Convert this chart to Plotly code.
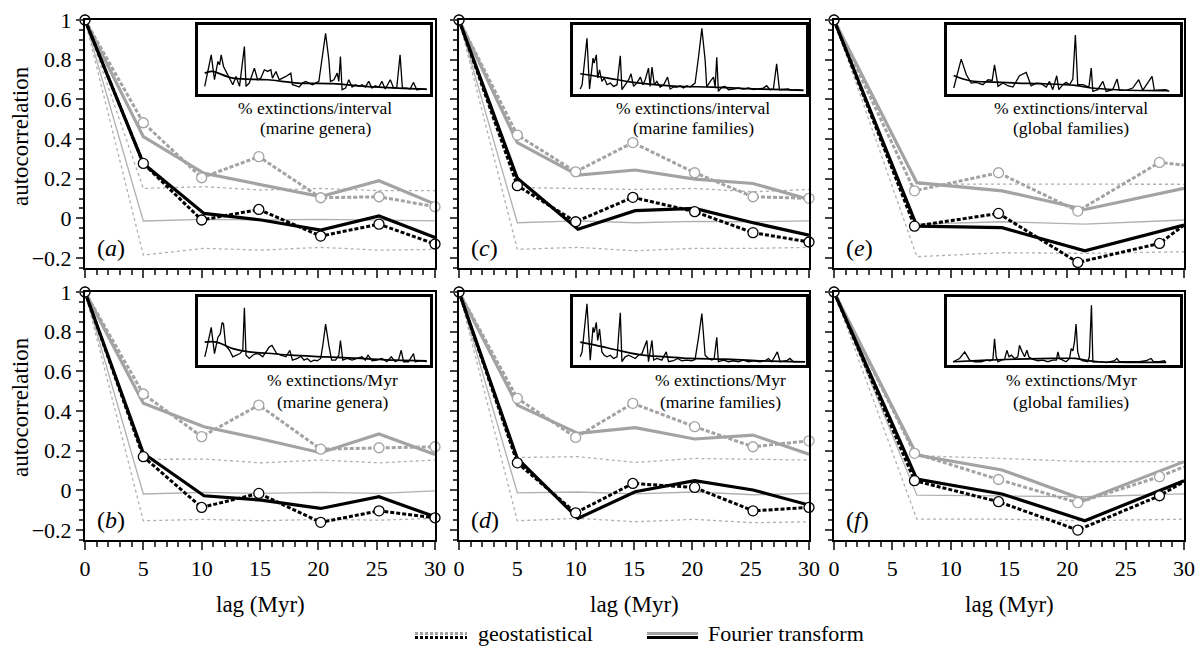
import plotly.graph_objects as go

W, H = 1204, 651
OFF = 8  # page offset of the figure (default body margin)
FONT = "Liberation Serif"
GRAY = "#a3a3a3"
LGRAY = "#b0b0b0"

# ---------------- data: autocorrelation panels ----------------
# lags for panels a-d
geo_lag_ad = [0, 5, 10, 14.9, 20.2, 25.2, 30]
ft_lag_ad = [0, 5, 10.2, 15.1, 20.2, 25.2, 30]
# lags for panels e-f (last value = line reaching the axis edge)
geo_lag_ef = [0, 6.9, 14.1, 20.9, 27.9, 30]
ft_lag_ef = [0, 7.1, 14.4, 21.5, 30]

# (a) % extinctions/interval, marine genera
a_geo_gray = [1, 0.482, 0.205, 0.311, 0.104, 0.109, 0.059]
a_geo_black = [1, 0.277, -0.008, 0.045, -0.089, -0.029, -0.129]
a_ft_gray = [1, 0.412, 0.227, 0.168, 0.110, 0.190, 0.072]
a_ft_black = [1, 0.277, 0.025, -0.008, -0.059, 0.012, -0.096]
a_null = [1, -0.013, -0.005, -0.008, -0.005, -0.010, -0.012]
a_upper = [1, 0.151, 0.160, 0.143, 0.151, 0.140, 0.140]
a_lower = [1, -0.185, -0.151, -0.160, -0.146, -0.160, -0.156]

# (b) % extinctions/Myr, marine genera
b_geo_gray = [1, 0.486, 0.271, 0.430, 0.208, 0.215, 0.220]
b_geo_black = [1, 0.170, -0.086, -0.015, -0.161, -0.103, -0.138]
b_ft_gray = [1, 0.439, 0.321, 0.259, 0.190, 0.284, 0.181]
b_ft_black = [1, 0.187, -0.027, -0.049, -0.091, -0.032, -0.133]
b_null = [1, -0.018, -0.010, -0.015, -0.010, -0.015, -0.002]
b_upper = [1, 0.156, 0.158, 0.139, 0.153, 0.139, 0.153]
b_lower = [1, -0.153, -0.146, -0.153, -0.146, -0.150, -0.141]

# (c) % extinctions/interval, marine families
c_geo_gray = [1, 0.420, 0.235, 0.382, 0.230, 0.109, 0.101]
c_geo_black = [1, 0.165, -0.017, 0.106, 0.034, -0.072, -0.119]
c_ft_gray = [1, 0.382, 0.218, 0.244, 0.198, 0.176, 0.096]
c_ft_black = [1, 0.202, -0.055, 0.039, 0.050, -0.022, -0.084]
c_null = [1, -0.022, -0.012, -0.022, -0.015, -0.017, -0.012]
c_upper = [1, 0.156, 0.151, 0.146, 0.151, 0.134, 0.146]
c_lower = [1, -0.156, -0.146, -0.163, -0.151, -0.151, -0.146]

# (d) % extinctions/Myr, marine families
d_geo_gray = [1, 0.464, 0.267, 0.439, 0.321, 0.220, 0.250]
d_geo_black = [1, 0.139, -0.113, 0.035, 0.015, -0.103, -0.086]
d_ft_gray = [1, 0.430, 0.287, 0.316, 0.259, 0.279, 0.182]
d_ft_black = [1, 0.161, -0.141, -0.007, 0.049, 0.002, -0.074]
d_null = [1, -0.012, -0.008, -0.018, -0.008, -0.022, -0.015]
d_upper = [1, 0.166, 0.170, 0.141, 0.161, 0.156, 0.153]
d_lower = [1, -0.153, -0.141, -0.158, -0.146, -0.163, -0.158]

# (e) % extinctions/interval, global families
e_geo_gray = [1, 0.139, 0.230, 0.037, 0.282, 0.269]
e_geo_black = [1, -0.039, 0.025, -0.222, -0.126, -0.034]
e_ft_gray = [1, 0.180, 0.139, 0.045, 0.151]
e_ft_black = [1, -0.039, -0.047, -0.163, -0.034]
e_null = [1, -0.029, -0.017, -0.029, -0.008]
e_upper = [1, 0.173, 0.173, 0.173, 0.172]
e_lower = [1, -0.193, -0.173, -0.176, -0.168]

# (f) % extinctions/Myr, global families
f_geo_gray = [1, 0.187, 0.055, -0.062, 0.069, 0.119]
f_geo_black = [1, 0.049, -0.057, -0.200, -0.027, 0.044]
f_ft_gray = [1, 0.178, 0.103, -0.049, 0.145]
f_ft_black = [1, 0.057, -0.018, -0.153, 0.049]
f_null = [1, -0.024, -0.028, -0.032, -0.018]
f_upper = [1, 0.175, 0.161, 0.145, 0.145]
f_lower = [1, -0.145, -0.145, -0.153, -0.145]

# ---------------- data: inset time series (relative units) ----------------
ins_a_x = [2.9, 5.7, 7.1, 8.6, 9.3, 10, 11, 12.1, 13.6, 15, 16.4, 17.9, 20, 20.7, 22.1, 24.3, 25.7, 27.1, 28.6, 30,
           31.4, 32.1, 33.6, 35, 36.4, 37.9, 40, 40.7, 42.1, 43.6, 45, 46.4, 47.9, 49.3, 50.7, 52.1, 53.6, 55, 56.4,
           57.1, 58.6, 60, 60.7, 61.4, 62.1, 63.6, 65, 66.4, 67.9, 69.3, 70.7, 72.1, 73.6, 75, 76.4, 77.9, 79.3,
           80.7, 82.9, 84.3, 85.7, 87.1, 88.1, 90, 91.4, 92.9, 94.3, 96.4, 98.6]
ins_a_y = [11.5, 59, 21.5, 49, 44, 59, 41.5, 34, 24, 14, 26.5, 11.5, 71.5, 11.5, 16.5, 39, 21.5, 24, 36.5, 34,
           36.5, 24, 34, 21.5, 24, 26.5, 31.5, 14, 12.5, 10.5, 16.5, 19, 16.5, 14, 16.5, 19, 56.5, 91.5, 51.5,
           19, 21.5, 31.5, 19, 56.5, 6.5, 9, 21.5, 10.5, 14, 11.5, 14, 10.5, 19, 9, 12.5, 10.5, 19,
           7.5, 21.5, 9, 10.5, 59, 9, 9, 7.5, 17.5, 6.5, 7.5, 6.5]
trend_a_x = [2.9, 6, 15, 30, 43, 58, 72, 86, 98.6]
trend_a_y = [31.5, 34, 24, 21.5, 16.5, 15.5, 11.5, 9, 7.5]

ins_b_x = [2.9, 3.6, 5.7, 7.1, 8.6, 9.6, 10.4, 11, 11.9, 13.6, 15, 16.4, 18.1, 19.3, 20, 20.7, 22.1, 23.6, 25,
           26.4, 27.9, 29.3, 30.7, 31.9, 32.9, 33.9, 35.7, 37.9, 39.6, 40.7, 42.9, 44.3, 45.7, 47.1, 48.6, 50,
           51.4, 52.9, 53.9, 55, 56.4, 57.6, 59.3, 60.7, 61.4, 62.4, 64.3, 66.4, 68.6, 70.7, 72.1, 73.3, 75,
           77.1, 79.3, 81.4, 83.3, 85, 86.4, 87.6, 88.6, 90.7, 92.9, 93.6, 95.7, 98.6]
ins_b_y = [12.5, 22.5, 57.5, 17.5, 42.5, 47.5, 65, 62.5, 30, 22.5, 12.5, 15, 17.5, 22.5, 87.5, 15, 10, 15, 17.5,
           16.5, 12.5, 20, 27.5, 30, 22.5, 17.5, 15, 12.5, 22.5, 7.5, 10, 13.5, 7.5, 10, 5, 7.5,
           6.5, 10, 32.5, 62.5, 30, 7.5, 7.5, 15, 37.5, 7.5, 10, 7.5, 10, 12.5, 7.5, 15, 6.5,
           7.5, 10, 5, 12.5, 5, 7.5, 22.5, 5, 5, 17.5, 5, 6.5, 5]
trend_b_x = [2.9, 8, 15, 22, 30, 40, 55, 70, 85, 98.6]
trend_b_y = [35, 35, 25, 20, 18, 15, 12.5, 10, 7.5, 6.5]

ins_c_x = [3.1, 3.9, 6, 7.1, 8.6, 9.1, 10, 10.6, 11.4, 12.4, 13.4, 14.6, 16, 17.4, 18.9, 20.3, 21, 22.4, 23.9,
           24.9, 26, 27.4, 28.9, 30, 31, 32.4, 33.1, 33.9, 34.9, 36, 37.4, 38.9, 40.6, 41.7, 43.1, 44.6, 46,
           47.4, 48.9, 50.3, 52.4, 53.9, 55.3, 56.7, 57.4, 58.9, 60.3, 61, 61.7, 62.4, 63.9, 65.3, 66.7, 68.9,
           71, 73.1, 75.3, 77.4, 79.6, 81.7, 83.1, 84.6, 86, 87.4, 88.6, 90.3, 92.4, 93.9, 96, 98.9]
ins_c_y = [7.5, 14, 84, 7.5, 54, 46.5, 59, 24, 36.5, 19, 24, 14, 16.5, 11.5, 14, 57.5, 6.5, 14, 21.5,
           30.5, 11.5, 16.5, 25.5, 14, 21.5, 39, 11.5, 40.5, 14, 19, 10.5, 14, 25.5, 7.5, 10.5, 10.5, 12.5,
           9, 12.5, 10.5, 16.5, 56.5, 99, 51.5, 10.5, 19, 25.5, 10.5, 55.5, 4, 10.5, 11.5, 6.5, 7.5,
           9, 7.5, 9, 6.5, 7.5, 9, 12.5, 6.5, 7.5, 45.5, 6.5, 6.5, 7.5, 5.5, 6.5, 5.5]
trend_c_x = [3.1, 15, 25, 35, 45, 60, 75, 90, 98.9]
trend_c_y = [30.5, 24, 18, 14, 11.5, 10.5, 8, 6.5, 5.5]

ins_d_x = [3.1, 3.9, 6, 7.4, 8.6, 9.1, 10, 10.6, 11.4, 12.4, 13.4, 14.6, 16, 17.4, 18.9, 20.3, 21, 22.4, 23.9,
           25.3, 26.7, 28.1, 29.6, 31.7, 32.4, 33.9, 34.6, 36, 38.1, 40, 41, 43.1, 44.9, 46.7, 48.9, 51, 52.4,
           53.9, 55.3, 56.7, 58.1, 59.6, 60.6, 61.7, 62.4, 64.6, 66.7, 68.9, 71, 73.1, 75.3, 77.4, 80.3, 82.4,
           83.9, 85.3, 87.7, 88.9, 91.7, 93.1, 94.6, 97.4, 99.6]
ins_d_y = [12.5, 20, 93.5, 7.5, 57.5, 50, 65, 37.5, 55, 20, 15, 12.5, 15, 10, 12.5, 80, 5, 12.5, 15,
           12.5, 10, 15, 17.5, 37.5, 5, 37.5, 7.5, 10, 7.5, 20, 5, 6.5, 10, 6.5, 7.5, 6.5, 8.5,
           42.5, 78.5, 15, 10, 7.5, 10, 42.5, 5, 7.5, 5, 6.5, 5, 7.5, 5, 6.5, 5, 6.5,
           10, 5, 20, 5, 6.5, 10, 5, 5, 5]
trend_d_x = [3.1, 10, 20, 30, 40, 50, 65, 80, 99.6]
trend_d_y = [35, 30, 22, 15, 12.5, 10, 9, 6.5, 5]

ins_e_x = [2.9, 6.1, 8.3, 10.4, 12.6, 15.4, 17.6, 19.4, 20.4, 21.9, 24, 26.1, 28.3, 31.1, 34, 36.1, 38.3, 40.4,
           42.6, 44, 45.4, 47.1, 48, 49.7, 51.1, 52.6, 54, 55.1, 56.1, 58.3, 60.9, 61.9, 62.6, 64.7, 66.9, 68.3,
           71.1, 73, 74, 76.9, 79.7, 82.3, 84, 86.1, 88, 89, 91.1, 93.7, 95.4]
ins_e_y = [9, 52.5, 29, 16.5, 17.5, 14, 21.5, 20.5, 44, 11.5, 16.5, 12.5, 10.5, 27.5, 32.5, 12.5, 16.5, 15.5,
           10.5, 19, 6.5, 27.5, 6.5, 14, 17.5, 14, 22.5, 89, 14, 14, 10.5, 39, 4, 6.5, 19, 4,
           6.5, 22.5, 5.5, 5.5, 9, 21.5, 5.5, 16.5, 26.5, 5.5, 5.5, 6.5, 4]
trend_e_x = [2.9, 10, 20, 30, 40, 55, 62, 75, 95]
trend_e_y = [28, 20, 18, 16.5, 15.5, 13, 9, 6, 5]

ins_f_x = [2.6, 5.4, 7.6, 9.7, 11.9, 14.7, 16.9, 18.6, 19.7, 20.4, 21.1, 21.9, 23.3, 24.7, 25.7, 26.6, 27.6, 29,
           30.4, 31.1, 32.3, 33.3, 34.3, 35.1, 36.9, 39, 41.1, 43.3, 45.4, 46.9, 47.6, 48.3, 49.7, 51.1, 52.6,
           53.3, 54, 54.7, 55.4, 56.1, 56.9, 58, 60.4, 61.1, 62, 62.6, 65.4, 68.3, 71.9, 72.9, 74, 76.9, 79.7,
           82.6, 85.4, 87.6, 88.6, 91.1, 93.3, 94]
ins_f_y = [5, 10, 20, 7.5, 5, 5, 7.5, 6.5, 8.5, 40, 12.5, 5, 7.5, 8.5, 22.5, 12.5, 15, 10,
           12.5, 30, 20, 12.5, 22.5, 12.5, 8.5, 6.5, 7.5, 5, 7.5, 7.5, 20, 10, 7.5, 5, 10,
           25, 21.5, 35, 62.5, 20, 10, 6.5, 5, 12.5, 91.5, 5, 5, 3.5, 6.5, 10, 5, 5, 5,
           5, 6.5, 10, 5, 5, 6.5, 3.5]
trend_f_x = [2.6, 15, 30, 45, 55, 60, 65, 80, 94]
trend_f_y = [5, 7, 9, 10, 10, 7, 5, 4, 4]

panel_letters = ["a", "b", "c", "d", "e", "f"]
inset_line1 = ["% extinctions/interval", "% extinctions/Myr"] * 3
inset_line2 = ["(marine genera)", "(marine genera)", "(marine families)", "(marine families)",
               "(global families)", "(global families)"]
ytick_vals = [-0.2, 0, 0.2, 0.4, 0.6, 0.8, 1]
ytick_text = ["\u22120.2", "0", "0.2", "0.4", "0.6", "0.8", "1"]
xtick_vals = [0, 5, 10, 15, 20, 25, 30]

panels = [
    (geo_lag_ad, ft_lag_ad, a_geo_gray, a_geo_black, a_ft_gray, a_ft_black, a_null, a_upper, a_lower,
     ins_a_x, ins_a_y, trend_a_x, trend_a_y),
    (geo_lag_ad, ft_lag_ad, b_geo_gray, b_geo_black, b_ft_gray, b_ft_black, b_null, b_upper, b_lower,
     ins_b_x, ins_b_y, trend_b_x, trend_b_y),
    (geo_lag_ad, ft_lag_ad, c_geo_gray, c_geo_black, c_ft_gray, c_ft_black, c_null, c_upper, c_lower,
     ins_c_x, ins_c_y, trend_c_x, trend_c_y),
    (geo_lag_ad, ft_lag_ad, d_geo_gray, d_geo_black, d_ft_gray, d_ft_black, d_null, d_upper, d_lower,
     ins_d_x, ins_d_y, trend_d_x, trend_d_y),
    (geo_lag_ef, ft_lag_ef, e_geo_gray, e_geo_black, e_ft_gray, e_ft_black, e_null, e_upper, e_lower,
     ins_e_x, ins_e_y, trend_e_x, trend_e_y),
    (geo_lag_ef, ft_lag_ef, f_geo_gray, f_geo_black, f_ft_gray, f_ft_black, f_null, f_upper, f_lower,
     ins_f_x, ins_f_y, trend_f_x, trend_f_y),
]

# ---------------- layout geometry (page pixels) ----------------
col_x = [(85, 435), (459, 809), (834, 1184)]
row_y = [(20, 268), (292, 540)]
inset_x = [(198, 430), (573, 806), (947, 1180)]
inset_y = [(25, 94), (297, 365)]
inset_text_x = [[315, 332], [693, 720], [1071, 1071]]
inset_text_y = [(108, 128), (380, 402)]


def px_x(v):
    return (v - OFF) / W


def px_y(v):
    return 1 - (v - OFF) / H


fig = go.Figure()
layout = dict(width=W, height=H, margin=dict(l=0, r=0, t=0, b=0, autoexpand=False),
              paper_bgcolor="white", plot_bgcolor="rgba(0,0,0,0)", showlegend=False,
              font=dict(family=FONT, size=20, color="black"))
annotations = []

for i, p in enumerate(panels):
    (glag, flag, geo_g, geo_b, ft_g, ft_b, null, upper, lower, ix, iy, tx, ty) = p
    col, row = i // 2, i % 2
    k = i + 1
    xa, ya = ("x" if k == 1 else f"x{k}"), ("y" if k == 1 else f"y{k}")
    # thin reference lines
    for yy, dash in [(upper, "3px,3px"), (lower, "3px,3px"), (null, "solid")]:
        fig.add_trace(go.Scatter(x=flag, y=yy, mode="lines", xaxis=xa, yaxis=ya,
                                 line=dict(color=LGRAY, width=1.3, dash=dash), hoverinfo="skip"))
    # main lines
    fig.add_trace(go.Scatter(x=flag, y=ft_g, mode="lines", xaxis=xa, yaxis=ya,
                             line=dict(color=GRAY, width=3.2)))
    fig.add_trace(go.Scatter(x=glag, y=geo_g, mode="lines", xaxis=xa, yaxis=ya,
                             line=dict(color=GRAY, width=3, dash="4px,2px")))
    fig.add_trace(go.Scatter(x=flag, y=ft_b, mode="lines", xaxis=xa, yaxis=ya,
                             line=dict(color="black", width=3.2)))
    fig.add_trace(go.Scatter(x=glag, y=geo_b, mode="lines", xaxis=xa, yaxis=ya,
                             line=dict(color="black", width=3, dash="4px,2px")))
    # circle markers on top
    nm = len(glag) if i < 4 else len(glag) - 1
    for yy, c in [(geo_g, GRAY), (geo_b, "black")]:
        fig.add_trace(go.Scatter(x=glag[:nm], y=yy[:nm], mode="markers", xaxis=xa, yaxis=ya,
                                 marker=dict(size=10, color="white", opacity=1,
                                             line=dict(color=c, width=1.3)),
                                 cliponaxis=False))

    x0, x1 = col_x[col]
    y0, y1 = row_y[row]
    layout["xaxis" if k == 1 else f"xaxis{k}"] = dict(
        domain=[px_x(x0), px_x(x1)], range=[0, 30], anchor=ya, automargin=False,
        showline=True, mirror=True, linewidth=2, linecolor="black",
        ticks="outside", ticklen=8, tickwidth=1.5, tickvals=xtick_vals,
        showticklabels=(row == 1), tickfont=dict(size=22, family=FONT),
        ticklabeloverflow="allow",
        minor=dict(ticks="outside", ticklen=5, tickwidth=1.5, dtick=1, tick0=0),
        showgrid=False, zeroline=False)
    layout["yaxis" if k == 1 else f"yaxis{k}"] = dict(
        domain=[px_y(y1), px_y(y0)], range=[-0.25, 1.0], anchor=xa, automargin=False,
        showline=True, mirror=True, linewidth=2, linecolor="black",
        ticks="outside", ticklen=7, tickwidth=1.5, tickvals=ytick_vals, ticktext=ytick_text,
        showticklabels=(col == 0), tickfont=dict(size=22, family=FONT),
        ticklabeloverflow="allow",
        minor=dict(ticks="outside", ticklen=4, tickwidth=1.5, dtick=0.05, tick0=0),
        showgrid=False, zeroline=False)

    # inset
    ki = k + 6
    ixa, iya = f"x{ki}", f"y{ki}"
    fig.add_trace(go.Scatter(x=ix, y=iy, mode="lines", xaxis=ixa, yaxis=iya,
                             line=dict(color="black", width=1.3)))
    fig.add_trace(go.Scatter(x=tx, y=ty, mode="lines", xaxis=ixa, yaxis=iya,
                             line=dict(color="black", width=1.7, shape="spline")))
    ix0, ix1 = inset_x[col]
    iy0, iy1 = inset_y[row]
    layout[f"xaxis{ki}"] = dict(domain=[px_x(ix0), px_x(ix1)], range=[0, 100], anchor=iya,
                                automargin=False,
                                showline=True, mirror=True, linewidth=2.5, linecolor="black",
                                ticks="", showticklabels=False, showgrid=False, zeroline=False)
    layout[f"yaxis{ki}"] = dict(domain=[px_y(iy1), px_y(iy0)], range=[0, 104], anchor=ixa,
                                automargin=False,
                                showline=True, mirror=True, linewidth=2.5, linecolor="black",
                                ticks="", showticklabels=False, showgrid=False, zeroline=False)
    tx_c = inset_text_x[col][row]
    ty1, ty2 = inset_text_y[row]
    for txt, yy in [(inset_line1[i], ty1), (inset_line2[i], ty2)]:
        annotations.append(dict(text=txt, x=px_x(tx_c), y=px_y(yy), xref="paper", yref="paper",
                                showarrow=False, xanchor="center", yanchor="middle",
                                font=dict(size=17.5, family=FONT)))
    # panel letter
    annotations.append(dict(text=f"(<i>{panel_letters[i]}</i>)", x=px_x(x0 + 10), y=px_y(y1 - 20),
                            xref="paper", yref="paper", showarrow=False, xanchor="left",
                            yanchor="middle", font=dict(size=24, family=FONT)))

# axis titles
for yc in (136, 407):
    annotations.append(dict(text="autocorrelation", x=px_x(20), y=px_y(yc), xref="paper", yref="paper",
                            showarrow=False, textangle=-90, xanchor="center", yanchor="middle",
                            font=dict(size=23, family=FONT)))
for (x0, x1) in col_x:
    annotations.append(dict(text="lag (Myr)", x=px_x((x0 + x1) / 2), y=px_y(604), xref="paper",
                            yref="paper", showarrow=False, xanchor="center", yanchor="middle",
                            font=dict(size=23, family=FONT)))

# legend (drawn manually)
legend_items = [("geostatistical", 415, 467, "3px,2px", 476), ("Fourier transform", 647, 698, "solid", 706)]
for label, sx0, sx1, dash, tx0 in legend_items:
    fig.add_trace(go.Scatter(x=[px_x(sx0), px_x(sx1)], y=[px_y(633.5)] * 2, mode="lines",
                             xaxis="x13", yaxis="y13", line=dict(color=GRAY, width=3, dash=dash)))
    fig.add_trace(go.Scatter(x=[px_x(sx0), px_x(sx1)], y=[px_y(637.5)] * 2, mode="lines",
                             xaxis="x13", yaxis="y13", line=dict(color="black", width=3, dash=dash)))
    annotations.append(dict(text=label, x=px_x(tx0), y=px_y(633), xref="paper", yref="paper",
                            showarrow=False, xanchor="left", yanchor="middle",
                            font=dict(size=22, family=FONT)))
layout["xaxis13"] = dict(domain=[0, 1], range=[0, 1], visible=False, anchor="y13", automargin=False)
layout["yaxis13"] = dict(domain=[0, 1], range=[0, 1], visible=False, anchor="x13", automargin=False)

layout["annotations"] = annotations
fig.update_layout(**layout)
fig.write_html("out.html")
